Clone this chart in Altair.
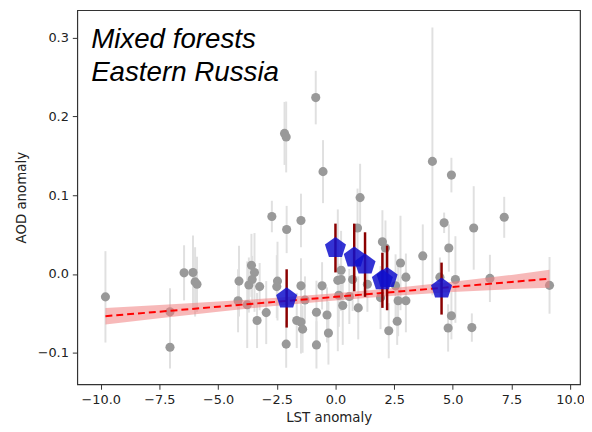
import altair as alt
import pandas as pd

# Gray points: LST anomaly, AOD anomaly, error half-length
gx = [-9.8, -7.05, -7.05, -6.45, -6.07, -5.98, -5.90, -4.11, -4.15, -3.76,
      -3.58, -3.45, -3.55, -3.69, -3.23, -3.34, -2.95, -2.71, -2.47, -2.50,
      -2.08, -2.10, -1.47, -1.47, -1.65, -1.47, -1.40, -1.30, -0.81, -0.81,
      -0.57, -0.36, -0.30, -2.17, -2.10, -0.84, -0.53, 4.13, 4.94, 1.05,
      4.63, 5.89, 7.19, 0.94, 2.00, 2.13, 4.83, 3.72, 2.77, 3.00,
      0.24, 0.10, 0.24, 0.14, 0.59, 0.73, 1.36, 0.31, 0.97, 1.92,
      2.67, 3.00, 2.63, 2.27, 2.56, 4.94, 4.80, 5.81, 5.11, 4.45,
      6.58, 9.12]
gy = [-0.029, -0.048, -0.093, 0.0015, 0.002, -0.010, -0.013, -0.009, -0.034, -0.039,
      0.011, 0.002, -0.007, -0.014, -0.016, -0.059, -0.049, 0.073, -0.009, -0.016,
      0.0565, -0.089, 0.068, -0.015, -0.059, -0.061, -0.070, -0.033, -0.0485, -0.090,
      -0.015, -0.052, -0.075, 0.1785, 0.174, 0.224, 0.130, 0.143, 0.1256, 0.097,
      0.065, 0.0585, 0.072, 0.0585, 0.041, 0.033, 0.033, 0.023, 0.014, -0.004,
      0.0048, -0.008, -0.007, -0.027, -0.0285, -0.007, -0.013, -0.040, -0.043, -0.030,
      -0.034, -0.034, -0.060, -0.072, -0.015, -0.053, -0.0685, -0.068, -0.007, -0.004,
      -0.0056, -0.0144]
gerr = [0.058, 0.03, 0.027, 0.035, 0.047, 0.044, 0.035, 0.045, 0.04, 0.055,
        0.04, 0.05, 0.03, 0.035, 0.03, 0.035, 0.04, 0.02, 0.05, 0.04,
        0.03, 0.03, 0.034, 0.035, 0.035, 0.04, 0.03, 0.03, 0.04, 0.03,
        0.03, 0.035, 0.04, 0.04, 0.045, 0.034, 0.04, 0.17, 0.022, 0.043,
        0.013, 0.053, 0.026, 0.05, 0.04, 0.035, 0.03, 0.04, 0.06, 0.03,
        0.05, 0.09, 0.04, 0.04, 0.035, 0.04, 0.035, 0.05, 0.04, 0.04,
        0.045, 0.04, 0.03, 0.035, 0.04, 0.03, 0.03, 0.018, 0.055, 0.025,
        0.03, 0.036]

# Binned means (blue pentagons)
bx = [-2.08, 0.0, 0.8, 1.26, 2.0, 2.2, 4.52]
by = [-0.031, 0.033, 0.021, 0.012, -0.008, -0.005, -0.0185]
berr = [0.037, 0.031, 0.043, 0.041, 0.035, 0.041, 0.033]

# Regression line and confidence band
fit_x = [-9.8, -7.5, -5.0, -2.5, 0.0, 2.5, 5.0, 7.5, 9.12]
fit_y = [-0.0535, -0.0478, -0.0415, -0.0352, -0.029, -0.0227, -0.0164, -0.0101, -0.006]
band_lo = [-0.064, -0.0563, -0.048, -0.0402, -0.0335, -0.0277, -0.0229, -0.0191, -0.0175]
band_hi = [-0.043, -0.0393, -0.035, -0.0302, -0.0245, -0.0177, -0.0099, -0.0011, 0.0055]

x_ticks = [-10.0, -7.5, -5.0, -2.5, 0.0, 2.5, 5.0, 7.5, 10.0]
y_ticks = [-0.1, 0.0, 0.1, 0.2, 0.3]
title_lines = ["Mixed forests", "Eastern Russia"]

gray = pd.DataFrame({"x": gx, "y": gy,
                     "lo": [a - b for a, b in zip(gy, gerr)],
                     "hi": [a + b for a, b in zip(gy, gerr)]})
blue = pd.DataFrame({"x": bx, "y": by,
                     "lo": [a - b for a, b in zip(by, berr)],
                     "hi": [a + b for a, b in zip(by, berr)]})
fit = pd.DataFrame({"x": fit_x, "y": fit_y, "lo": band_lo, "hi": band_hi})

xs = alt.Scale(domain=[-11.0, 10.42], nice=False, zero=False)
ys = alt.Scale(domain=[-0.14, 0.335], nice=False, zero=False)

FONT = "DejaVu Sans"
x_axis = alt.Axis(title="LST anomaly", values=x_ticks, format=".1f", grid=False,
                  domain=False, tickSize=5, tickColor="#333", labelPadding=4,
                  labelFont=FONT, labelFontSize=13, labelColor="#222",
                  titleFont=FONT, titleFontSize=13.5, titleFontWeight="normal",
                  titleColor="#222", titlePadding=5)
y_axis = alt.Axis(title="AOD anomaly", values=y_ticks, format=".1f", grid=False,
                  domain=False, tickSize=5, tickColor="#333", labelPadding=4,
                  labelFont=FONT, labelFontSize=13, labelColor="#222",
                  titleFont=FONT, titleFontSize=13.5, titleFontWeight="normal",
                  titleColor="#222", titlePadding=9)

gray_bars = alt.Chart(gray).mark_rule(color="#e0e0e0", strokeWidth=2).encode(
    x=alt.X("x:Q", scale=xs, axis=x_axis),
    y=alt.Y("lo:Q", scale=ys, axis=y_axis),
    y2="hi:Q")
gray_pts = alt.Chart(gray).mark_circle(color="#999999", opacity=1, size=85).encode(
    x=alt.X("x:Q", scale=xs), y=alt.Y("y:Q", scale=ys))
band = alt.Chart(fit).mark_area(color="#f08080", opacity=0.55).encode(
    x=alt.X("x:Q", scale=xs), y=alt.Y("lo:Q", scale=ys), y2="hi:Q")
line = alt.Chart(fit).mark_line(color="#ff0000", strokeWidth=2, strokeDash=[7, 4]).encode(
    x=alt.X("x:Q", scale=xs), y=alt.Y("y:Q", scale=ys))
red_bars = alt.Chart(blue).mark_rule(color="#8b0000", strokeWidth=2.5).encode(
    x=alt.X("x:Q", scale=xs), y=alt.Y("lo:Q", scale=ys), y2="hi:Q")
pent = alt.Chart(blue).mark_point(
    shape="M0,-1L0.951,-0.309L0.588,0.809L-0.588,0.809L-0.951,-0.309Z",
    filled=True, color="#0f0fcc", opacity=0.85, size=500).encode(
    x=alt.X("x:Q", scale=xs), y=alt.Y("y:Q", scale=ys))

t1 = alt.Chart(pd.DataFrame({"t": [title_lines[0]]})).mark_text(
    font="Liberation Sans", fontStyle="italic", fontSize=28, align="left",
    baseline="alphabetic", color="black").encode(
    x=alt.value(14), y=alt.value(38), text="t:N")
t2 = alt.Chart(pd.DataFrame({"t": [title_lines[1]]})).mark_text(
    font="Liberation Sans", fontStyle="italic", fontSize=28, align="left",
    baseline="alphabetic", color="black").encode(
    x=alt.value(14), y=alt.value(72), text="t:N")

chart = alt.layer(gray_bars, gray_pts, band, line, red_bars, pent, t1, t2).properties(
    width=508, height=378, autosize="none",
    padding={"left": 70, "top": 0, "right": 4, "bottom": 44},
).configure_view(stroke="#333", strokeWidth=1.2)

chart.save("out.html", embed_options={"renderer": "svg", "actions": False})
